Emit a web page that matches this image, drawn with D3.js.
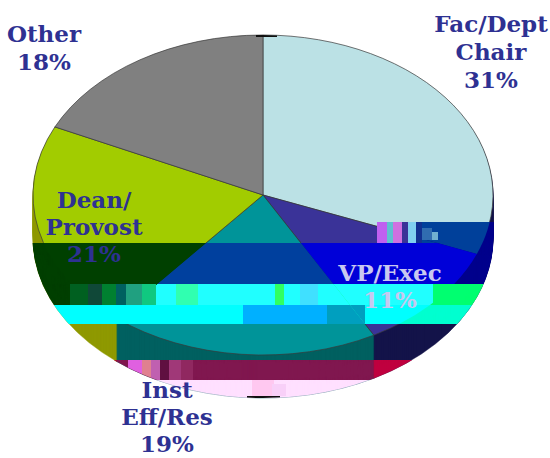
<!DOCTYPE html>
<html>
<head>
<meta charset="utf-8">
<style>
html, body { margin: 0; padding: 0; background: #fff; }
text { font-family: "DejaVu Serif", serif; font-weight: bold; font-size: 23px; text-anchor: middle; }
</style>
<script src="https://cdn.jsdelivr.net/npm/d3@7"></script>
</head>
<body>
<svg id="chart" width="550" height="458"></svg>
<script>
"use strict";

var categories = ["Fac/Dept Chair", "VP/Exec", "Inst Eff/Res", "Dean/Provost", "Other"]
var values = [31, 11, 19, 21, 18]

var topColors = ["#bbe1e5", "#3a3398", "#009499", "#a2cc00", "#808080"]
var sideColors = ["#14144a", "#14144a", "#006060", "#8f9900", "#505050"]

// the damaged rows of the picture: each one repaints the pie in other colours
var bands = [
    { y0: 222, y1: 243, x0: 377, x1: 550, top: ["#00409a", "#00409a", "#009499", "#a2cc00", "#808080"], side: ["#00008c", "#00008c", "#006060", "#8f9900", "#505050"] },
    { y0: 243, y1: 284, x0: 0, x1: 550, top: ["#00409a", "#0000d8", "#00409e", "#004000", "#808080"], side: ["#00008c", "#00008c", "#00409e", "#004000", "#004000"] },
    { y0: 284, y1: 305, x0: 0, x1: 550, top: ["#00ff70", "#20ffff", "#20ffff", "#004000", "#808080"], side: ["#00ff70", "#00ff70", "#20ffff", "#004000", "#004000"] },
    { y0: 305, y1: 324, x0: 0, x1: 550, top: ["#00ffd0", "#00ffff", "#00ffff", "#00ffff", "#808080"], side: ["#00ffd0", "#00ffd0", "#00ffff", "#00ffff", "#00ffff"] },
    { y0: 305, y1: 324, x0: 243, x1: 327, top: ["#00ffd0", "#00b0ff", "#00b0ff", "#00ffff", "#808080"], side: ["#00ffd0", "#00ffd0", "#00b0ff", "#00ffff", "#00ffff"] },
    { y0: 305, y1: 324, x0: 327, x1: 365, top: ["#00ffd0", "#009fbf", "#009fbf", "#00ffff", "#808080"], side: ["#00ffd0", "#00ffd0", "#009fbf", "#00ffff", "#00ffff"] },
    { y0: 360, y1: 380, x0: 0, x1: 550, top: topColors, side: ["#c00040", "#c00040", "#801850", "#b01030", "#b01030"] },
    { y0: 380, y1: 398, x0: 0, x1: 550, top: topColors, side: ["#ffe0ff", "#ffe0ff", "#ffe0ff", "#ffe0ff", "#ffe0ff"] }
]

// blocks of garbled pixels, [x, y, w, h, colour]
var noise = [
    [377, 222, 10, 21, "#c060f0"], [387, 222, 6, 21, "#60c0d0"], [393, 222, 9, 21, "#d070e0"],
    [402, 222, 6, 21, "#3a3398"], [408, 222, 8, 21, "#80d0f0"], [416, 222, 6, 21, "#103090"],
    [422, 228, 10, 12, "#306cb0"], [432, 232, 6, 8, "#70b0d0"],
    [70, 284, 18, 21, "#006020"], [88, 284, 14, 21, "#104838"], [102, 284, 14, 21, "#008030"],
    [116, 284, 10, 21, "#006060"], [126, 284, 16, 21, "#20a080"], [142, 284, 14, 21, "#10c880"],
    [176, 284, 22, 21, "#30ffb0"], [275, 284, 9, 21, "#30ff60"], [300, 284, 18, 21, "#40e0ff"],
    [433, 284, 30, 21, "#00ff70"],
    [128, 360, 14, 20, "#e060e0"], [142, 360, 9, 20, "#e08090"], [151, 360, 9, 20, "#c060b0"],
    [160, 360, 9, 20, "#601040"], [169, 360, 12, 20, "#a03878"], [181, 360, 12, 20, "#902860"],
    [252, 380, 22, 18, "#ffc8f0"], [272, 384, 14, 12, "#f8d0f8"],
    [247, 396, 33, 2, "#101010"], [256, 35, 21, 2, "#101010"]
]

var labels = [
    { lines: ["Fac/Dept", "Chair", "31%"], x: 491, y: 32, gap: 28, fill: "#2e3192" },
    { lines: ["VP/Exec", "11%"], x: 390, y: 281, gap: 27, fill: "#c8c8f0" },
    { lines: ["Inst", "Eff/Res", "19%"], x: 167, y: 398, gap: 27, fill: "#2e3192" },
    { lines: ["Dean/", "Provost", "21%"], x: 94, y: 208, gap: 27, fill: "#2e3192" },
    { lines: ["Other", "18%"], x: 44, y: 42, gap: 28, fill: "#2e3192" }
]

var width = 550, height = 458
var cx = 263, cy = 195, rx = 230, ry = 160, depth = 43

var svg = d3.select("#chart")
var defs = svg.append("defs")

var pie = d3.pie().sort(null).value(d => d)
var arcs = pie(values)
var arc = d3.arc().innerRadius(0).outerRadius(rx)

function drawPie(group, top, side, outline) {
    for (var d = depth; d > 0; d -= 1) {
        group.append("g")
            .attr("transform", "translate(" + cx + "," + (cy + d) + ")scale(1," + (ry / rx) + ")")
            .selectAll("path")
            .data(arcs)
            .enter().append("path")
            .attr("d", arc)
            .style("fill", (a, i) => side[i])
            .style("stroke", (a, i) => side[i])
            .style("stroke-width", 0.6)
    }
    var face = group.append("g")
        .attr("transform", "translate(" + cx + "," + cy + ")scale(1," + (ry / rx) + ")")
    face.selectAll("path")
        .data(arcs)
        .enter().append("path")
        .attr("d", arc)
        .style("fill", (a, i) => top[i])
        .style("stroke", outline ? "#3a3a3a" : "none")
        .style("stroke-width", outline ? 0.7 : 0)
        .attr("vector-effect", "non-scaling-stroke")
}

drawPie(svg.append("g"), topColors, sideColors, true)

bands.forEach((band, i) => {
    defs.append("clipPath").attr("id", "band" + i)
        .append("rect")
        .attr("x", band.x0)
        .attr("y", band.y0)
        .attr("width", band.x1 - band.x0)
        .attr("height", band.y1 - band.y0)
    drawPie(svg.append("g").attr("clip-path", "url(#band" + i + ")"), band.top, band.side, false)
})

// silhouette, so the noise blocks stay inside the pie
var outlineClip = defs.append("clipPath").attr("id", "shape")
outlineClip.append("ellipse").attr("cx", cx).attr("cy", cy).attr("rx", rx).attr("ry", ry)
outlineClip.append("ellipse").attr("cx", cx).attr("cy", cy + depth).attr("rx", rx).attr("ry", ry)
outlineClip.append("rect").attr("x", cx - rx).attr("y", cy).attr("width", rx * 2).attr("height", depth)

svg.append("g")
    .attr("clip-path", "url(#shape)")
    .selectAll("rect")
    .data(noise)
    .enter().append("rect")
    .attr("x", d => d[0])
    .attr("y", d => d[1])
    .attr("width", d => d[2])
    .attr("height", d => d[3])
    .style("fill", d => d[4])

var labelGroups = svg.selectAll(".label")
    .data(labels)
    .enter().append("text")
    .attr("class", "label")
    .style("fill", d => d.fill)

labelGroups.selectAll("tspan")
    .data(d => d.lines.map((line, i) => ({ line: line, x: d.x, y: d.y + i * d.gap })))
    .enter().append("tspan")
    .attr("x", d => d.x)
    .attr("y", d => d.y)
    .text(d => d.line)
</script>
</body>
</html>
